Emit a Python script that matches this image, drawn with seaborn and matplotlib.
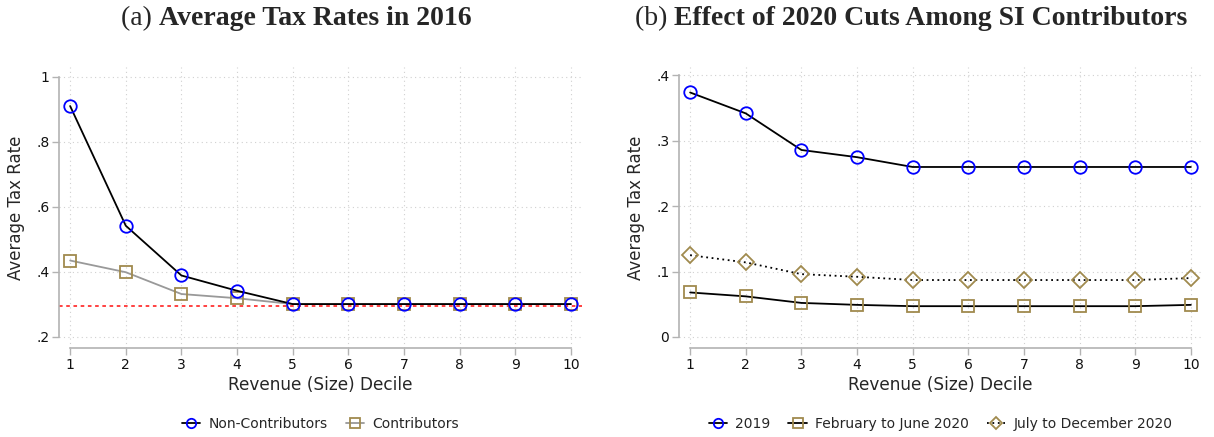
import matplotlib
matplotlib.use("Agg")
import matplotlib.pyplot as plt
import seaborn as sns

sns.set_theme(style="white")
plt.rcParams['font.family'] = ['DejaVu Sans']

deciles = [1, 2, 3, 4, 5, 6, 7, 8, 9, 10]
non_contributors = [0.910, 0.542, 0.389, 0.342, 0.301, 0.301, 0.301, 0.301, 0.301, 0.301]
contributors = [0.435, 0.399, 0.332, 0.319, 0.301, 0.301, 0.301, 0.301, 0.301, 0.301]
ref_rate = 0.296

rate_2019 = [0.374, 0.342, 0.286, 0.275, 0.260, 0.260, 0.260, 0.260, 0.260, 0.260]
rate_feb_jun = [0.068, 0.062, 0.052, 0.049, 0.047, 0.047, 0.047, 0.047, 0.047, 0.049]
rate_jul_dec = [0.125, 0.114, 0.096, 0.092, 0.087, 0.087, 0.087, 0.087, 0.087, 0.090]

left_yticks = [0.2, 0.4, 0.6, 0.8, 1.0]
left_yticklabels = [".2", ".4", ".6", ".8", "1"]
right_yticks = [0.0, 0.1, 0.2, 0.3, 0.4]
right_yticklabels = ["0", ".1", ".2", ".3", ".4"]

W, H = 1214, 437
fig = plt.figure(figsize=(W / 100, H / 100), dpi=100)
fig.patch.set_facecolor("white")

BLUE = "#0000ff"
SAND = "#a08a4e"
GRAYLINE = "#999999"
AXCOL = "#b3b3b3"


def px_axes(x0, x1, ytop, ybot):
    return fig.add_axes([x0 / W, (H - ybot) / H, (x1 - x0) / W, (ybot - ytop) / H])


def style_axes(ax, yticks, yticklabels, ylim, ybounds):
    ax.set_xlim(0.8, 10.2)
    ax.set_ylim(*ylim)
    ax.set_xticks(deciles)
    ax.set_xticklabels([str(d) for d in deciles], fontsize=10)
    ax.set_yticks(yticks)
    ax.set_yticklabels(yticklabels, fontsize=10)
    ax.grid(True, which="major", axis="both", linestyle=(0, (1, 3)), color="#d0d0d0", linewidth=0.8)
    for s in ["top", "right"]:
        ax.spines[s].set_visible(False)
    ax.spines["left"].set_bounds(*ybounds)
    ax.spines["bottom"].set_bounds(1, 10)
    for s in ["left", "bottom"]:
        ax.spines[s].set_color(AXCOL)
        ax.spines[s].set_linewidth(1.2)
    ax.tick_params(axis="both", which="both", direction="out", length=5, width=1.0,
                   color=AXCOL, labelcolor="#111111", pad=2, bottom=True, left=True)
    ax.set_xlabel("Revenue (Size) Decile", fontsize=12.2, labelpad=3)
    ax.set_ylabel("Average Tax Rate", fontsize=12, labelpad=8)
    ax.set_facecolor("white")


LEG = dict(loc="center", bbox_to_anchor=(0.5, -(424 - 348) / 281), frameon=False,
           fontsize=10, handlelength=1.3, columnspacing=1.3, handletextpad=0.6, markerscale=0.75)

# Panel (a)
ax1 = px_axes(59, 582, 67, 348)
ax1.axhline(ref_rate, color="#ff3333", linestyle=(0, (2, 2)), linewidth=1.3, zorder=1)
sns.lineplot(x=deciles, y=contributors, ax=ax1, color=GRAYLINE, linewidth=1.3,
             marker="s", markersize=9, markerfacecolor="none", markeredgecolor=SAND,
             markeredgewidth=1.3, label="Contributors", zorder=2)
sns.lineplot(x=deciles, y=non_contributors, ax=ax1, color="black", linewidth=1.3,
             marker="o", markersize=9, markerfacecolor="none", markeredgecolor=BLUE,
             markeredgewidth=1.3, label="Non-Contributors", zorder=3)
style_axes(ax1, left_yticks, left_yticklabels, (0.166, 1.03), (0.2, 1.0))
h, l = ax1.get_legend_handles_labels()
ax1.legend([h[1], h[0]], [l[1], l[0]], ncol=2, **LEG)

# Panel (b)
ax2 = px_axes(679, 1202, 67, 348)
sns.lineplot(x=deciles, y=rate_2019, ax=ax2, color="black", linewidth=1.3,
             marker="o", markersize=9, markerfacecolor="none", markeredgecolor=BLUE,
             markeredgewidth=1.3, label="2019")
sns.lineplot(x=deciles, y=rate_feb_jun, ax=ax2, color="black", linewidth=1.3,
             marker="s", markersize=9, markerfacecolor="none", markeredgecolor=SAND,
             markeredgewidth=1.3, label="February to June 2020")
sns.lineplot(x=deciles, y=rate_jul_dec, ax=ax2, color="black", linewidth=1.3, linestyle=(0, (1, 2)),
             marker="D", markersize=8.5, markerfacecolor="none", markeredgecolor=SAND,
             markeredgewidth=1.3, label="July to December 2020")
style_axes(ax2, right_yticks, right_yticklabels, (-0.017, 0.413), (0.0, 0.4))
ax2.legend(ncol=3, **LEG)

# Titles
serif = ["Liberation Serif", "DejaVu Serif"]
for xc, tag, txt in [(296, "(a) ", "Average Tax Rates in 2016"),
                     (911, "(b) ", "Effect of 2020 Cuts Among SI Contributors")]:
    t1 = fig.text(0, 0, tag, family=serif, fontsize=20, fontweight="normal")
    t2 = fig.text(0, 0, txt, family=serif, fontsize=20, fontweight="bold")
    fig.canvas.draw()
    r = fig.canvas.get_renderer()
    w1 = t1.get_window_extent(r).width
    w2 = t2.get_window_extent(r).width
    x0 = xc - (w1 + w2) / 2
    yb = (H - 25) / H
    t1.set_position((x0 / W, yb))
    t2.set_position(((x0 + w1) / W, yb))
    t1.set_va("baseline")
    t2.set_va("baseline")

fig.savefig("out.png", dpi=100, facecolor="white")
